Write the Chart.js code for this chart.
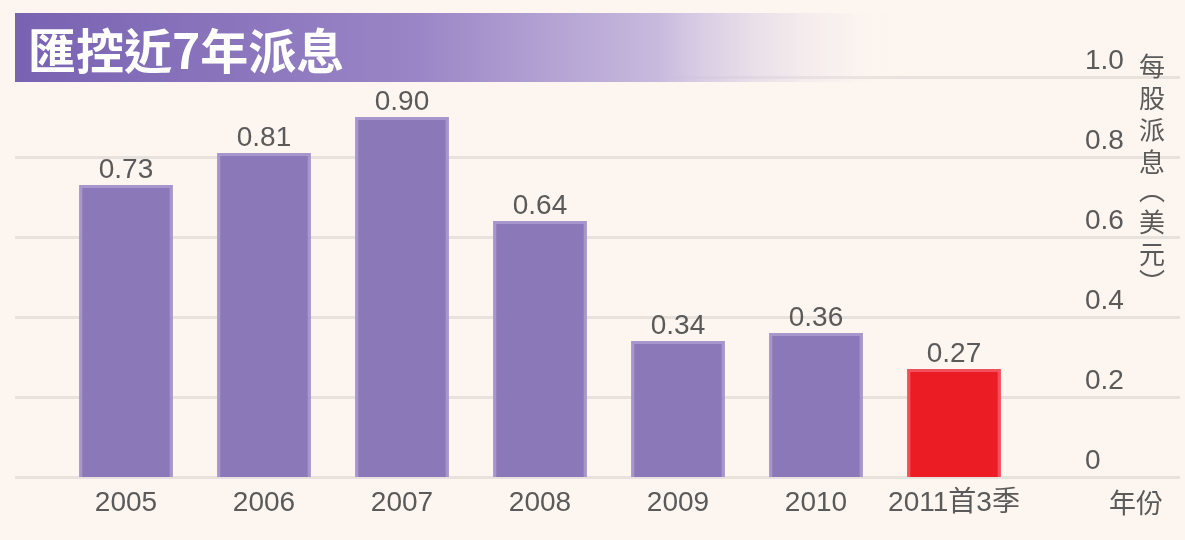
<!DOCTYPE html>
<html>
<head>
<meta charset="utf-8">
<script src="https://cdn.jsdelivr.net/npm/chart.js@4/dist/chart.umd.min.js"></script>
<style>
  html, body { margin: 0; padding: 0; background: #fdf6f0; }
  #wrap { width: 1185px; height: 540px; position: relative; }
</style>
</head>
<body>
<div id="wrap"><canvas id="barChart"></canvas></div>
<script>
// data
var years = ['2005', '2006', '2007', '2008', '2009', '2010', '2011首3季'];
var dividends = [0.73, 0.81, 0.90, 0.64, 0.34, 0.36, 0.27];
var valueLabels = ['0.73', '0.81', '0.90', '0.64', '0.34', '0.36', '0.27'];
var yTicks = [0, 0.2, 0.4, 0.6, 0.8, 1.0];

var chartTitle = '匯控近7年派息';
var yTitle = '每股派息︵美元︶';
var xTitle = '年份';

var FONT = '"Liberation Sans", "Noto Sans CJK TC", sans-serif';

var barColors = ['#8b78b8', '#8b78b8', '#8b78b8', '#8b78b8', '#8b78b8', '#8b78b8', '#ec1c24'];
var edgeColors = ['#a796cb', '#a796cb', '#a796cb', '#a796cb', '#a796cb', '#a796cb', '#f2505a'];

// grid lines, title banner, value labels and axis titles
var decor = {
  id: 'decor',
  beforeDatasetsDraw: function(chart) {
    var ctx = chart.ctx;
    var y = chart.scales.y;
    ctx.save();
    ctx.strokeStyle = '#e8e2de';
    ctx.lineWidth = 3;
    yTicks.forEach(function(v) {
      var py = Math.round(y.getPixelForValue(v)) + 0.5;
      ctx.beginPath();
      ctx.moveTo(15, py);
      ctx.lineTo(1180, py);
      ctx.stroke();
    });
    ctx.restore();
  },
  afterDatasetsDraw: function(chart) {
    var ctx = chart.ctx;
    ctx.save();

    // banner
    var g = ctx.createLinearGradient(15, 0, 910, 0);
    g.addColorStop(0, '#7862b2');
    g.addColorStop(0.45, '#9a86c6');
    g.addColorStop(0.72, '#c8bade');
    g.addColorStop(1, 'rgba(253,246,240,0)');
    ctx.fillStyle = g;
    ctx.fillRect(15, 13, 895, 69);
    ctx.fillStyle = '#ffffff';
    ctx.font = 'bold 48px "Noto Sans CJK TC", sans-serif';
    ctx.textBaseline = 'middle';
    ctx.textAlign = 'left';
    ctx.fillText(chartTitle, 28, 51);

    // value labels
    var meta = chart.getDatasetMeta(0);
    ctx.fillStyle = '#5a5a5a';
    ctx.font = '28px ' + FONT;
    ctx.textAlign = 'center';
    ctx.textBaseline = 'bottom';
    meta.data.forEach(function(bar, i) {
      ctx.fillText(valueLabels[i], bar.x, bar.y - 1);
    });

    // vertical y title
    ctx.font = '26px "Noto Sans CJK TC", sans-serif';
    ctx.textBaseline = 'middle';
    var cy = 66;
    Array.from(yTitle).forEach(function(c) {
      var paren = (c === '︵' || c === '︶');
      ctx.fillText(c, 1152, paren ? cy - 4 : cy);
      cy += paren ? 28 : 32;
    });

    // x title
    ctx.font = '27px "Noto Sans CJK TC", sans-serif';
    ctx.fillText(xTitle, 1136, 503);
    ctx.restore();
  }
};

var barChartCanvas = document.getElementById('barChart').getContext('2d');
var barChart = new Chart(barChartCanvas, {
  type: 'bar',
  data: {
    labels: years,
    datasets: [
      {
        data: dividends,
        backgroundColor: barColors,
        borderColor: edgeColors,
        borderWidth: 3,
        categoryPercentage: 1,
        barPercentage: 0.68
      }
    ]
  },
  options: {
    responsive: true,
    maintainAspectRatio: false,
    animation: false,
    layout: { padding: { left: 57, right: 0, top: 77, bottom: 0 } },
    plugins: {
      legend: { display: false },
      tooltip: { enabled: false }
    },
    scales: {
      x: {
        grid: { display: false, drawTicks: false },
        border: { display: false },
        ticks: {
          color: '#5a5a5a',
          font: { size: 28, family: FONT },
          padding: 9,
          maxRotation: 0
        },
        afterFit: function(s) { s.height = 63; }
      },
      y: {
        position: 'right',
        min: 0,
        max: 1.0,
        grid: { display: false, drawTicks: false },
        border: { display: false },
        afterBuildTicks: function(s) {
          s.ticks = yTicks.map(function(v) { return { value: v }; });
        },
        ticks: {
          color: '#5a5a5a',
          font: { size: 28, family: FONT },
          padding: 62,
          labelOffset: -16,
          callback: function(v) { return v === 0 ? '0' : v.toFixed(1); }
        },
        afterFit: function(s) {
          s.width = 162;
          // tick padding is only meant sideways here
          s.paddingTop = 0;
          s.paddingBottom = 0;
        }
      }
    }
  },
  plugins: [decor]
});
</script>
</body>
</html>
